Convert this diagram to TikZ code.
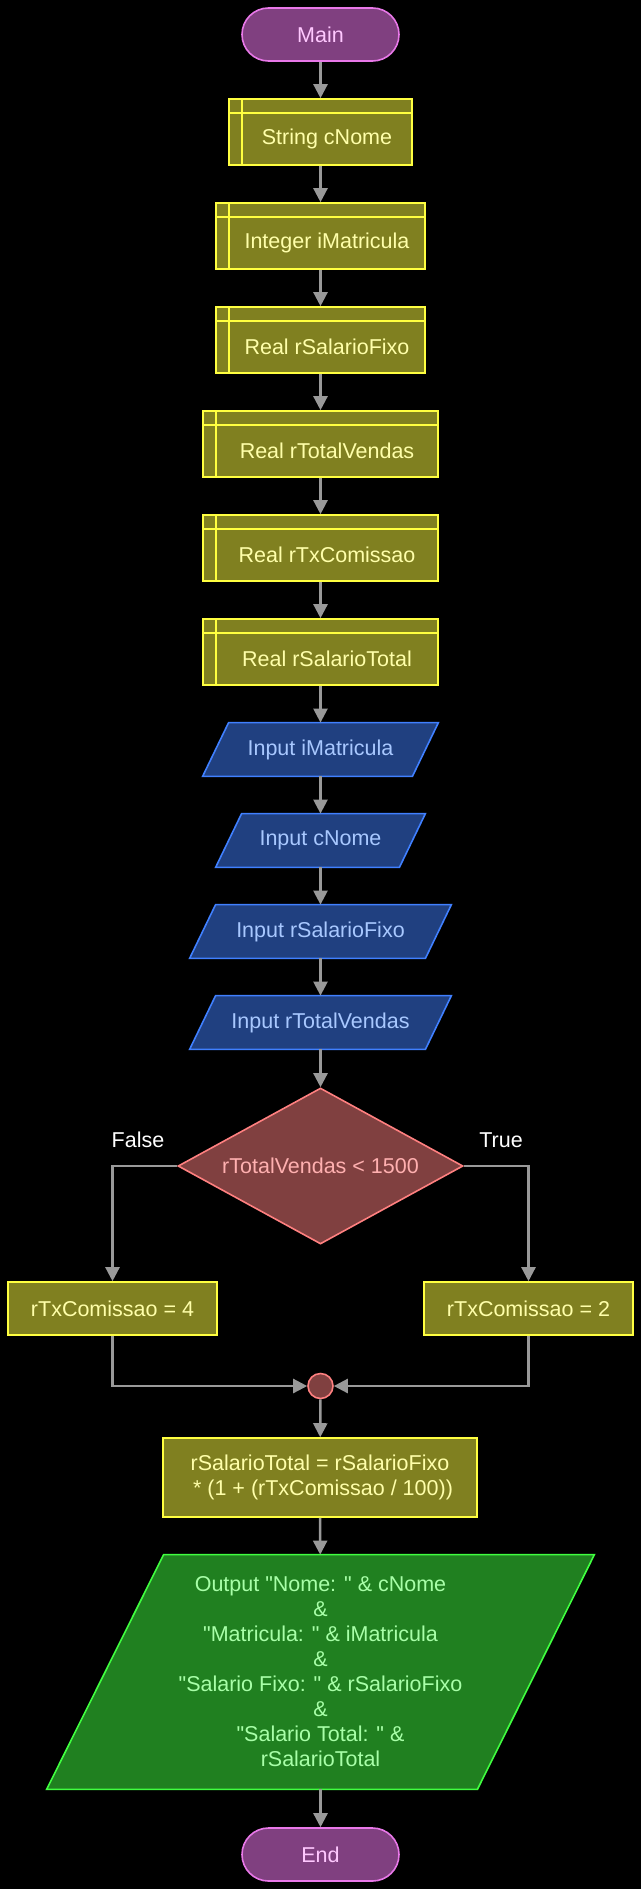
\documentclass[tikz,border=0pt]{standalone}
\usepackage{fontspec}
\setmainfont{Liberation Sans}[Ligatures=TeXOff]
\usetikzlibrary{arrows.meta,shapes.geometric,backgrounds,calc}
\definecolor{termfill}{RGB}{128,64,128}
\definecolor{termdraw}{RGB}{232,120,232}
\definecolor{termtext}{RGB}{255,200,255}
\definecolor{declfill}{RGB}{128,128,32}
\definecolor{decldraw}{RGB}{255,255,64}
\definecolor{decltext}{RGB}{255,255,170}
\definecolor{infill}{RGB}{32,64,128}
\definecolor{indraw}{RGB}{64,128,255}
\definecolor{intext}{RGB}{168,200,255}
\definecolor{decfill}{RGB}{128,64,64}
\definecolor{decdraw}{RGB}{255,128,128}
\definecolor{dectext}{RGB}{255,176,176}
\definecolor{outfill}{RGB}{32,128,32}
\definecolor{outdraw}{RGB}{64,255,64}
\definecolor{outtext}{RGB}{168,255,168}
\definecolor{arrc}{RGB}{153,153,153}
\begin{document}
\begin{tikzpicture}[x=0.5pt,y=-0.5pt,
 every node/.style={font=\fontsize{10.75pt}{12.5pt}\selectfont, inner sep=0pt},
 term/.style={draw=termdraw, fill=termfill, text=termtext, line width=0.8pt, rounded corners=13.25pt, minimum width=78.5pt, minimum height=26.5pt},
 decl/.style={draw=decldraw, fill=declfill, line width=0.8pt, minimum height=33pt,
   path picture={\draw[decldraw,line width=0.8pt] ([xshift=6.5pt]path picture bounding box.north west) -- ([xshift=6.5pt]path picture bounding box.south west) ([yshift=-7pt]path picture bounding box.north west) -- ([yshift=-7pt]path picture bounding box.north east);}},
 decltxt/.style={text=decltext},
 proc/.style={draw=decldraw, fill=declfill, text=decltext, line width=0.8pt, minimum height=26.5pt, align=center},
 io/.style={minimum height=26.5pt, text=intext},
 ioshape/.style={draw=indraw, fill=infill, line width=0.8pt},
 outshape/.style={draw=outdraw, fill=outfill, line width=0.8pt},
 lbl/.style={text=white},
 arr/.style={draw=arrc, line width=1.2pt, -{Triangle[length=7pt,width=7pt]}}
]
\begin{scope}[on background layer]
\fill[black] (0,0) rectangle (641,1889);
\end{scope}
\useasboundingbox (0,0) rectangle (641,1889);

\node[term] (M) at (320.5,34.5) {Main};

\node[decl, minimum width=91.5pt] (d1) at (320.5,132) {};
\node[decltxt] (d1t) at ([xshift=3.25pt,yshift=-3.5pt]d1.center) {String cNome};
\node[decl, minimum width=104.5pt] (d2) at (320.5,236) {};
\node[decltxt] (d2t) at ([xshift=3.25pt,yshift=-3.5pt]d2.center) {Integer iMatricula};
\node[decl, minimum width=104.5pt] (d3) at (320.5,340) {};
\node[decltxt] (d3t) at ([xshift=3.25pt,yshift=-3.5pt]d3.center) {Real rSalarioFixo};
\node[decl, minimum width=117.5pt] (d4) at (320.5,444) {};
\node[decltxt] (d4t) at ([xshift=3.25pt,yshift=-3.5pt]d4.center) {Real rTotalVendas};
\node[decl, minimum width=117.5pt] (d5) at (320.5,548) {};
\node[decltxt] (d5t) at ([xshift=3.25pt,yshift=-3.5pt]d5.center) {Real rTxComissao};
\node[decl, minimum width=117.5pt] (d6) at (320.5,652) {};
\node[decltxt] (d6t) at ([xshift=3.25pt,yshift=-3.5pt]d6.center) {Real rSalarioTotal};

\node[io, minimum width=104.5pt] (i1) at (320.5,749.5) {Input iMatricula};
\node[io, minimum width=91.5pt] (i2) at (320.5,840.5) {Input cNome};
\node[io, minimum width=117.5pt] (i3) at (320.5,931.5) {Input rSalarioFixo};
\node[io, minimum width=117.5pt] (i4) at (320.5,1022.5) {Input rTotalVendas};
\begin{scope}[on background layer]
\foreach \n in {i1,i2,i3,i4}{
 \filldraw[ioshape] ([xshift=6.5pt]\n.north west) -- ([xshift=6.5pt]\n.north east) -- ([xshift=-6.5pt]\n.south east) -- ([xshift=-6.5pt]\n.south west) -- cycle;
}
\end{scope}

\node[diamond, draw=decdraw, fill=decfill, text=dectext, line width=0.8pt, minimum width=142.5pt, minimum height=78pt, aspect=1.8] (dia) at (320.5,1166) {rTotalVendas < 1500};
\node[lbl] (lf) at (138,1140) {False};
\node[lbl] (lt) at (501,1140) {True};

\node[proc, minimum width=104.5pt] (L) at (112.5,1308.5) {rTxComissao = 4};
\node[proc, minimum width=104.5pt] (R) at (528.5,1308.5) {rTxComissao = 2};

\node[circle, draw=decdraw, fill=decfill, line width=0.8pt, minimum size=12.5pt] (J) at (320.5,1386) {};

\node[proc, minimum width=157pt, minimum height=39.5pt] (S) at (320,1477.5) {rSalarioTotal = rSalarioFixo\\ \hspace*{0.28em}* (1 + (rTxComissao / 100))};

\node[text=outtext, align=center, minimum width=215pt, minimum height=117pt] (O) at (320.5,1672) {Output "Nome: " \& cNome\\ \&\\ "Matricula: " \& iMatricula\\ \&\\ "Salario Fixo: " \& rSalarioFixo\\ \&\\ "Salario Total: " \&\\ rSalarioTotal};
\begin{scope}[on background layer]
 \filldraw[outshape] ([xshift=29.25pt]O.north west) -- ([xshift=29.25pt]O.north east) -- ([xshift=-29.25pt]O.south east) -- ([xshift=-29.25pt]O.south west) -- cycle;
\end{scope}

\node[term] (E) at (320.5,1854.5) {End};

\draw[arr] (M) -- (d1);
\draw[arr] (d1) -- (d2);
\draw[arr] (d2) -- (d3);
\draw[arr] (d3) -- (d4);
\draw[arr] (d4) -- (d5);
\draw[arr] (d5) -- (d6);
\draw[arr] (d6) -- (i1);
\draw[arr] (i1) -- (i2);
\draw[arr] (i2) -- (i3);
\draw[arr] (i3) -- (i4);
\draw[arr] (i4) -- (dia);
\draw[arr] (dia.west) -| (L.north);
\draw[arr] (dia.east) -| (R.north);
\draw[arr] (L.south) |- (J.west);
\draw[arr] (R.south) |- (J.east);
\draw[arr] (J) -- (S);
\draw[arr] (S) -- (O);
\draw[arr] (O) -- (E);
\end{tikzpicture}
\end{document}
